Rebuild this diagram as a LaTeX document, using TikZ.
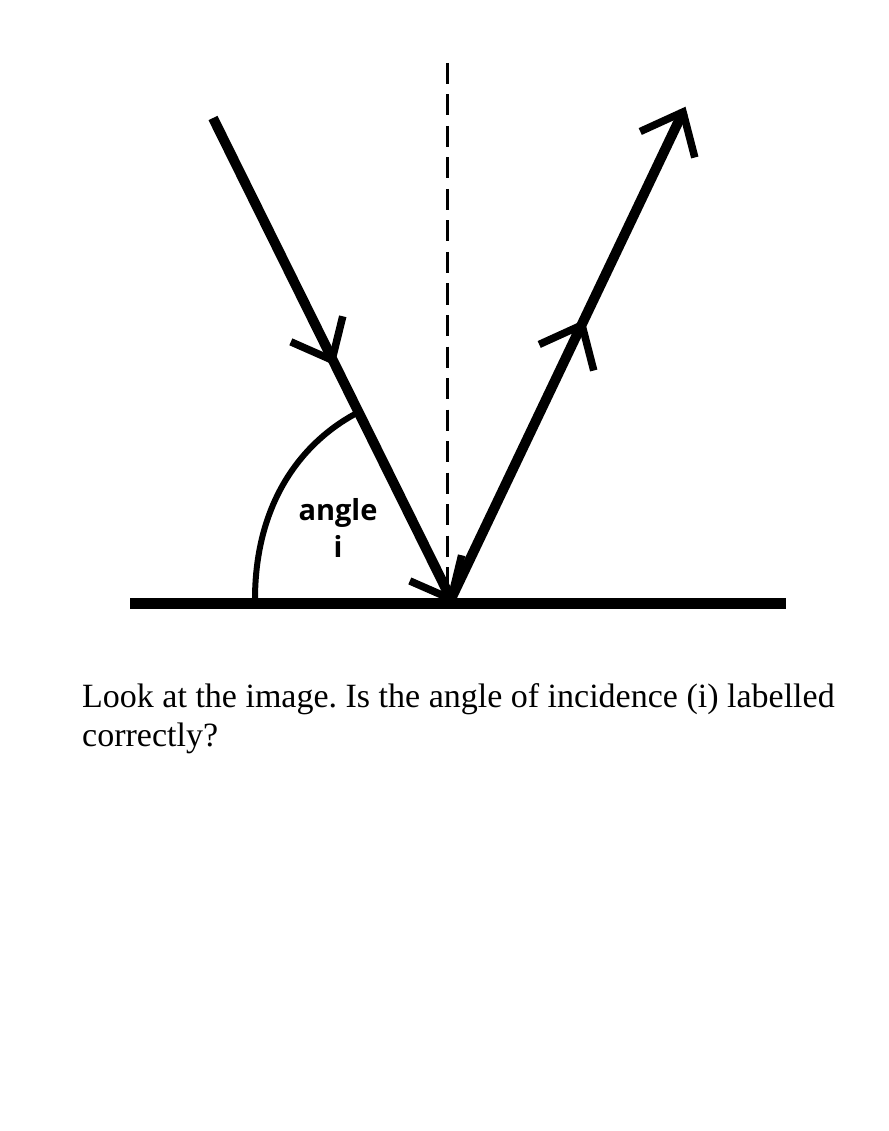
\documentclass[tikz,border=0pt]{standalone}
\usepackage{fontspec}
\setmainfont{Liberation Serif}
\newfontfamily\lblfont{Open Sans}
\usetikzlibrary{calc}
\frenchspacing
\begin{document}
\begin{tikzpicture}[x=1pt,y=-1pt,
  ray/.style={line width=10pt,line cap=butt},
  barb/.style={line width=7.5pt,line cap=butt,line join=miter},
  surface/.style={line width=11pt},
  normalline/.style={line width=3pt,dash pattern=on 21pt off 10.5pt},
  anglearc/.style={line width=6pt},
  lbl/.style={font=\lblfont\bfseries\fontsize{29}{34}\selectfont,inner sep=0pt,anchor=base},
  question/.style={font=\fontsize{34}{39}\selectfont,inner sep=0pt,anchor=base west}]
\useasboundingbox (0,0) rectangle (888,1131);
% points
\coordinate (S1) at (130,603.5);
\coordinate (S2) at (786,603.5);
\coordinate (I0) at (213,118);
\coordinate (P) at (451,599);
\coordinate (R1) at (683,112);
\coordinate (N0) at (447,63);
\coordinate (N1) at (447,598);
\coordinate (MI) at (332,360);
\coordinate (MR) at (582,325);
% surface and normal
\draw[surface] (S1) -- (S2);
\draw[normalline] (N0) -- (N1);
% rays
\draw[ray] (I0) -- (P);
\draw[ray] (P) -- (R1);
% arrowheads
\draw[barb] ($(MI)!45pt!40:(I0)$) -- (MI) -- ($(MI)!45pt!-40:(I0)$);
\draw[barb] ($(P)!45pt!40:(I0)$) -- (P) -- ($(P)!45pt!-40:(I0)$);
\draw[barb] ($(MR)!47pt!40:(P)$) -- (MR) -- ($(MR)!47pt!-40:(P)$);
\draw[barb] ($(R1)!47pt!40:(P)$) -- (R1) -- ($(R1)!47pt!-40:(P)$);
% angle arc
\coordinate (A0) at (255,603);
\coordinate (A1) at (355,414);
\draw[anglearc] (A0) .. controls (254,505) and (300,444) .. (A1);
\node[lbl] (angl) at (338,520) {angle};
\node[lbl] (angi) at (338,557) {i};
% question
\node[question] (q1) at (82,707) {Look at the image. Is the angle of incidence (i) labelled};
\node[question] (q2) at (82,746) {correctly?};
\end{tikzpicture}
\end{document}
